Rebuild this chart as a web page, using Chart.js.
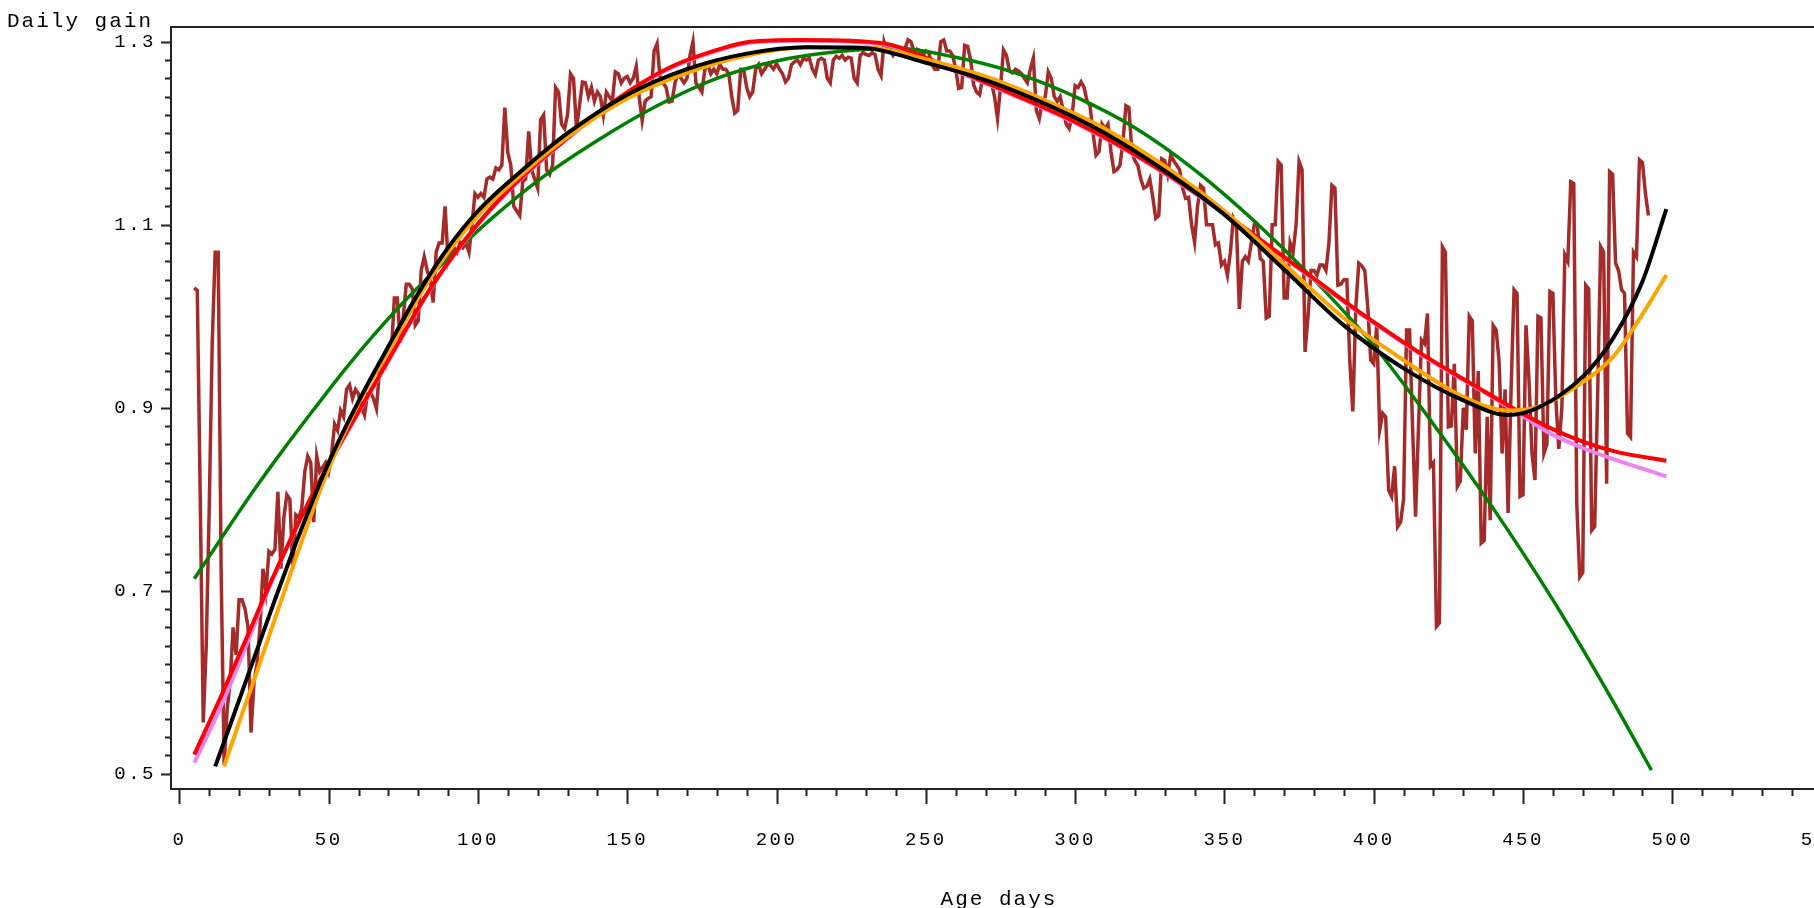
<!DOCTYPE html>
<html>
<head>
<meta charset="utf-8">
<title>Daily gain by age</title>
<script src="https://cdn.jsdelivr.net/npm/chart.js@4.4.1/dist/chart.umd.min.js"></script>
<style>
  html, body { margin: 0; padding: 0; background: #fff; overflow: hidden; }
  #wrap { width: 1814px; height: 908px; overflow: hidden; }
</style>
</head>
<body>
<div id="wrap"><canvas id="gainChart" width="1920" height="908"></canvas></div>
<script>
// tick labels
const xTickValues = [0, 50, 100, 150, 200, 250, 300, 350, 400, 450, 500, 550];
const yTickValues = [0.5, 0.7, 0.9, 1.1, 1.3];

// observed daily gain, one value per day starting at day 5
const brownFirstDay = 5;
const brownGain = [
  1.031, 1.028, 0.80, 0.556, 0.64, 0.79, 0.97, 1.07, 1.07, 0.72,
  0.51, 0.57, 0.60, 0.66, 0.63, 0.69, 0.69, 0.68, 0.66, 0.545,
  0.60, 0.62, 0.66, 0.724, 0.70, 0.743, 0.74, 0.745, 0.808, 0.724,
  0.78, 0.805, 0.80, 0.724, 0.783, 0.78, 0.79, 0.83, 0.847, 0.84,
  0.775, 0.847, 0.83, 0.835, 0.84, 0.83, 0.85, 0.882, 0.875, 0.897,
  0.89, 0.92, 0.925, 0.91, 0.92, 0.915, 0.90, 0.892, 0.915, 0.917,
  0.91, 0.899, 0.94, 0.95, 0.945, 0.955, 0.96, 1.02, 1.02, 0.971,
  1.00, 1.035, 1.035, 1.03, 0.99, 0.995, 1.05, 1.065, 1.05, 1.04,
  1.015, 1.07, 1.08, 1.08, 1.12, 1.06, 1.07, 1.075, 1.07, 1.08,
  1.075, 1.08, 1.07, 1.10, 1.134, 1.13, 1.134, 1.13, 1.15, 1.152,
  1.15, 1.162, 1.16, 1.165, 1.228, 1.179, 1.165, 1.12, 1.115, 1.11,
  1.147, 1.15, 1.202, 1.16, 1.15, 1.14, 1.215, 1.22, 1.16, 1.155,
  1.165, 1.25, 1.245, 1.21, 1.205, 1.22, 1.265, 1.26, 1.205, 1.23,
  1.256, 1.255, 1.24, 1.25, 1.235, 1.245, 1.24, 1.22, 1.245, 1.24,
  1.235, 1.267, 1.265, 1.255, 1.26, 1.262, 1.255, 1.26, 1.273, 1.24,
  1.214, 1.235, 1.238, 1.24, 1.29, 1.298, 1.26, 1.255, 1.25, 1.234,
  1.235, 1.255, 1.265, 1.26, 1.255, 1.26, 1.285, 1.30, 1.255, 1.25,
  1.245, 1.27, 1.275, 1.265, 1.27, 1.265, 1.275, 1.27, 1.27, 1.265,
  1.24, 1.222, 1.225, 1.27, 1.27, 1.25, 1.24, 1.245, 1.27, 1.275,
  1.265, 1.27, 1.275, 1.274, 1.27, 1.276, 1.27, 1.265, 1.256, 1.26,
  1.275, 1.278, 1.28, 1.275, 1.282, 1.28, 1.282, 1.27, 1.264, 1.28,
  1.282, 1.28, 1.26, 1.255, 1.28, 1.284, 1.282, 1.285, 1.28, 1.283,
  1.282, 1.26, 1.255, 1.285, 1.288, 1.286, 1.285, 1.288, 1.286, 1.27,
  1.263, 1.30, 1.29, 1.29, 1.285, 1.29, 1.288, 1.293, 1.292, 1.302,
  1.30, 1.29, 1.292, 1.29, 1.285, 1.29, 1.288, 1.275, 1.27, 1.27,
  1.30, 1.302, 1.29, 1.29, 1.285, 1.27, 1.249, 1.25, 1.296, 1.295,
  1.28, 1.253, 1.245, 1.242, 1.26, 1.262, 1.26, 1.255, 1.24, 1.216,
  1.25, 1.291, 1.285, 1.268, 1.266, 1.27, 1.268, 1.265, 1.26, 1.255,
  1.27, 1.282, 1.225, 1.216, 1.235, 1.24, 1.267, 1.26, 1.24, 1.235,
  1.24, 1.225, 1.21, 1.205, 1.22, 1.252, 1.25, 1.256, 1.25, 1.235,
  1.23, 1.20, 1.176, 1.18, 1.21, 1.205, 1.21, 1.18, 1.158, 1.16,
  1.165, 1.19, 1.23, 1.228, 1.18, 1.17, 1.165, 1.15, 1.14, 1.142,
  1.15, 1.13, 1.107, 1.11, 1.172, 1.17, 1.155, 1.176, 1.17, 1.165,
  1.16, 1.14, 1.129, 1.13, 1.10, 1.081, 1.12, 1.143, 1.14, 1.10,
  1.10, 1.10, 1.078, 1.08, 1.056, 1.06, 1.045, 1.07, 1.107, 1.10,
  1.008, 1.06, 1.065, 1.06, 1.08, 1.10, 1.10, 1.063, 1.06, 0.998,
  1.00, 1.10, 1.10, 1.169, 1.165, 1.02, 1.02, 1.08, 1.07, 1.10,
  1.169, 1.16, 0.961, 1.00, 1.05, 1.05, 1.045, 1.056, 1.056, 1.05,
  1.08, 1.143, 1.14, 1.034, 1.035, 1.04, 1.04, 0.95, 0.896, 1.01,
  1.058, 1.055, 1.05, 1.01, 0.952, 0.948, 0.99, 0.876, 0.894, 0.89,
  0.81, 0.803, 0.836, 0.77, 0.775, 0.80, 0.985, 0.985, 0.88, 0.781,
  0.88, 0.974, 0.97, 1.003, 0.836, 0.84, 0.661, 0.665, 1.076, 1.07,
  0.879, 0.88, 0.948, 0.814, 0.82, 0.90, 0.876, 1.00, 0.995, 0.85,
  0.94, 0.752, 0.755, 0.89, 0.777, 0.99, 0.985, 0.95, 0.85, 0.92,
  0.785, 0.92, 1.029, 1.025, 0.803, 0.805, 0.99, 0.93, 0.85, 0.821,
  1.00, 0.998, 0.85, 0.86, 1.027, 1.025, 0.908, 0.855, 0.90, 1.067,
  1.06, 1.147, 1.145, 0.795, 0.715, 0.72, 1.034, 1.03, 0.766, 0.77,
  0.916, 1.076, 1.07, 0.817, 1.158, 1.155, 1.058, 1.05, 1.029, 1.025,
  0.872, 0.868, 1.07, 1.065, 1.171, 1.168, 1.134, 1.11
];

// fitted curves
const greenDays = [5, 15, 25, 35, 45, 55, 65, 75, 90, 105, 120, 140, 160, 180, 200, 220, 240, 260, 280, 300, 320, 340, 360, 380, 400, 420, 440, 460, 480, 493];
const greenGain = [0.713, 0.762, 0.810, 0.855, 0.898, 0.940, 0.979, 1.015, 1.063, 1.108, 1.148, 1.192, 1.230, 1.260, 1.279, 1.289, 1.293, 1.283, 1.266, 1.240, 1.206, 1.160, 1.104, 1.040, 0.968, 0.882, 0.790, 0.690, 0.580, 0.504];

const redDays = [5, 14, 23, 30, 43, 52, 67, 85, 101, 114, 130, 146, 163, 180, 191, 208, 225, 236, 241, 257, 279, 302, 324, 346, 369, 380, 395, 403, 414, 426, 437, 448, 459, 470, 481, 498];
const redGain = [0.521, 0.585, 0.652, 0.705, 0.795, 0.850, 0.935, 1.035, 1.105, 1.150, 1.195, 1.236, 1.270, 1.291, 1.300, 1.302, 1.301, 1.298, 1.294, 1.273, 1.243, 1.209, 1.169, 1.122, 1.067, 1.041, 1.005, 0.987, 0.963, 0.939, 0.918, 0.897, 0.878, 0.863, 0.852, 0.842];
const violetGain = [0.512, 0.574, 0.645, 0.703, 0.794, 0.849, 0.934, 1.034, 1.104, 1.149, 1.194, 1.235, 1.269, 1.290, 1.299, 1.301, 1.300, 1.297, 1.293, 1.272, 1.242, 1.208, 1.168, 1.121, 1.066, 1.040, 1.004, 0.986, 0.962, 0.938, 0.917, 0.895, 0.872, 0.856, 0.843, 0.825];

const orangeDays = [15, 20, 25, 30, 38, 48, 60, 70, 80, 90, 100, 115, 130, 150, 170, 190, 210, 230, 250, 270, 290, 310, 330, 350, 370, 390, 410, 430, 445, 455, 470, 480, 490, 498];
const orangeGain = [0.508, 0.556, 0.602, 0.650, 0.726, 0.817, 0.905, 0.961, 1.020, 1.070, 1.110, 1.156, 1.196, 1.238, 1.266, 1.285, 1.294, 1.294, 1.281, 1.262, 1.236, 1.205, 1.164, 1.115, 1.057, 0.998, 0.952, 0.912, 0.897, 0.901, 0.928, 0.955, 1.002, 1.045];

const blackDays = [12, 17, 24, 30, 40, 50, 60, 70, 80, 90, 100, 115, 130, 150, 170, 190, 210, 230, 250, 270, 290, 310, 330, 350, 370, 390, 410, 430, 445, 455, 470, 480, 490, 498];
const blackGain = [0.508, 0.553, 0.617, 0.672, 0.760, 0.840, 0.907, 0.967, 1.025, 1.075, 1.115, 1.160, 1.200, 1.242, 1.270, 1.287, 1.294, 1.293, 1.277, 1.258, 1.232, 1.200, 1.159, 1.111, 1.051, 0.990, 0.943, 0.908, 0.892, 0.900, 0.934, 0.975, 1.038, 1.117];

function pairs(days, vals) {
  return days.map((d, i) => ({ x: d, y: vals[i] }));
}

const brownPoints = brownGain.map((v, i) => ({ x: brownFirstDay + i, y: v }));

const FONT = '"Liberation Mono", "DejaVu Sans Mono", monospace';
const AXIS_COLOR = '#222';

function fitLine(label, data, color, width) {
  return {
    label: label,
    data: data,
    borderColor: color,
    borderWidth: width,
    pointRadius: 0,
    fill: false,
    cubicInterpolationMode: 'monotone'
  };
}

// frame, tick marks and axis titles drawn against the chart's own scales
const axisDecor = {
  id: 'axisDecor',
  beforeDraw(chart) {
    chart.ctx.letterSpacing = '2.5px';
  },
  afterDraw(chart) {
    const ctx = chart.ctx;
    const area = chart.chartArea;
    const xs = chart.scales.x;
    const ys = chart.scales.y;
    ctx.save();
    ctx.strokeStyle = AXIS_COLOR;
    ctx.lineWidth = 2;
    ctx.strokeRect(area.left, area.top, area.right - area.left, area.bottom - area.top);

    ctx.beginPath();
    for (let v = 0; v <= 550; v += 10) {
      const px = Math.round(xs.getPixelForValue(v)) + 0.5;
      const len = v % 50 === 0 ? 15 : 7;
      ctx.moveTo(px, area.bottom);
      ctx.lineTo(px, area.bottom + len);
    }
    for (let k = 25; k <= 65; k++) {
      const py = Math.round(ys.getPixelForValue(k / 50)) + 0.5;
      const len = k % 10 === 5 ? 10 : 6;
      ctx.moveTo(area.left - len, py);
      ctx.lineTo(area.left, py);
    }
    ctx.stroke();

    ctx.fillStyle = '#000';
    ctx.letterSpacing = '2px';
    ctx.font = '21px ' + FONT;
    ctx.textBaseline = 'alphabetic';
    ctx.textAlign = 'left';
    ctx.fillText('Daily gain', 7, 27);
    ctx.textAlign = 'center';
    ctx.fillText('Age days', 999, 905);
    ctx.restore();
  }
};

const ctx = document.getElementById('gainChart').getContext('2d');

new Chart(ctx, {
  type: 'line',
  data: {
    datasets: [
      fitLine('Black fit', pairs(blackDays, blackGain), '#000000', 4),
      fitLine('Orange fit', pairs(orangeDays, orangeGain), '#FFA500', 4),
      fitLine('Red fit', pairs(redDays, redGain), '#FF0000', 4),
      fitLine('Violet fit', pairs(redDays, violetGain), '#EE82EE', 4),
      fitLine('Green fit', pairs(greenDays, greenGain), '#008000', 3.5),
      {
        label: 'Daily gain',
        data: brownPoints,
        borderColor: '#A52A2A',
        borderWidth: 3.5,
        pointRadius: 0,
        fill: false,
        tension: 0
      }
    ]
  },
  options: {
    responsive: false,
    animation: false,
    devicePixelRatio: 1,
    events: [],
    layout: { padding: { top: 27, left: 0, right: 1920 - 1824.6, bottom: 0 } },
    plugins: {
      legend: { display: false },
      tooltip: { enabled: false }
    },
    scales: {
      x: {
        type: 'linear',
        min: -2.8,
        max: 551,
        grid: { display: false, drawTicks: false },
        border: { display: false },
        afterBuildTicks: (scale) => { scale.ticks = xTickValues.map(v => ({ value: v })); },
        afterFit: (scale) => { scale.height = 908 - 789; },
        ticks: {
          padding: 40,
          maxRotation: 0,
          autoSkip: false,
          color: '#000',
          font: { family: FONT, size: 19 },
          callback: (v) => String(v)
        }
      },
      y: {
        type: 'linear',
        min: 0.4833,
        max: 1.3161,
        grid: { display: false, drawTicks: false },
        border: { display: false },
        afterBuildTicks: (scale) => { scale.ticks = yTickValues.map(v => ({ value: v })); },
        afterFit: (scale) => { scale.width = 171; },
        ticks: {
          padding: 15,
          autoSkip: false,
          color: '#000',
          font: { family: FONT, size: 19 },
          callback: (v) => v.toFixed(1)
        }
      }
    }
  },
  plugins: [axisDecor]
});
</script>
</body>
</html>
